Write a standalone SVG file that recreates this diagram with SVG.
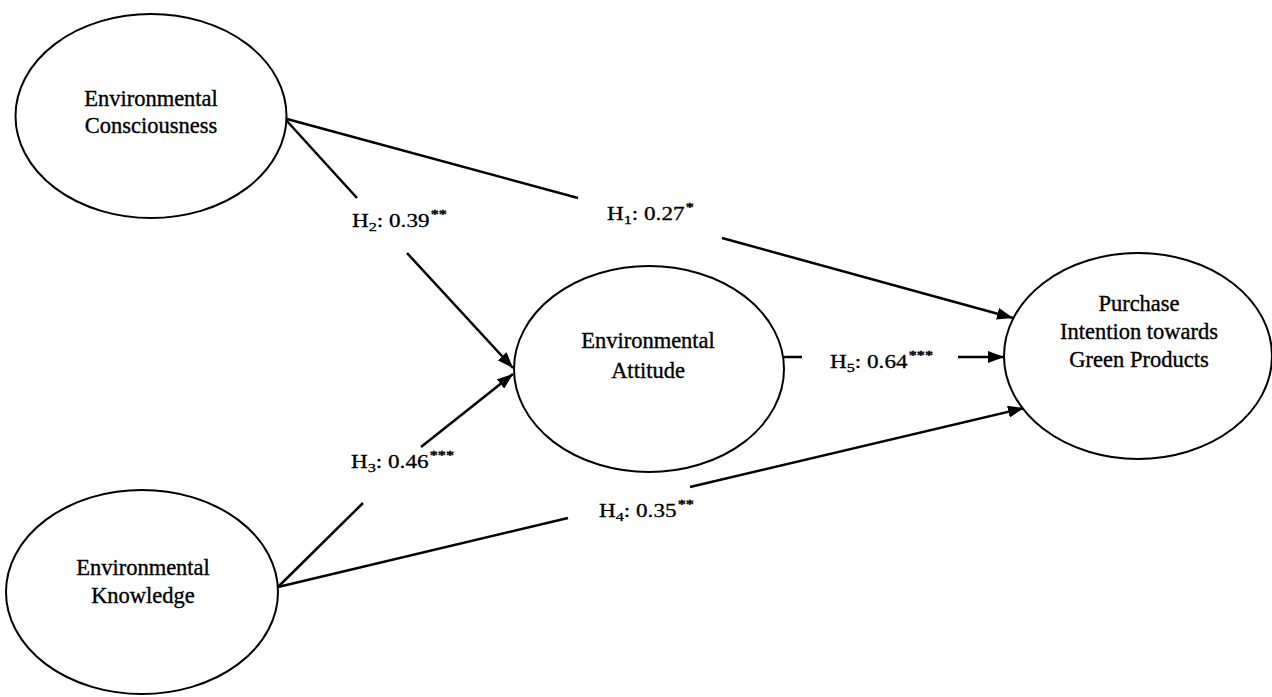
<svg xmlns="http://www.w3.org/2000/svg" width="1272" height="697" viewBox="0 0 1272 697">
<style>
.node ellipse{fill:#fff;stroke:#000;stroke-width:2}
.nt{font-family:"Liberation Serif","Times New Roman",serif;font-size:22.5px;fill:#000;stroke:#000;stroke-width:0.35;text-anchor:middle}
.edge line{stroke:#000;stroke-width:2.5;fill:none}
.lbl{font-family:"Liberation Serif","Times New Roman",serif;font-size:18.5px;fill:#000;stroke:#000;stroke-width:0.3}
.sub{font-size:13px}
.sup{font-size:13px;font-weight:bold}
</style>
<defs>
<marker id="arr" viewBox="0 0 16 12" refX="16" refY="6" markerWidth="16" markerHeight="12" markerUnits="userSpaceOnUse" orient="auto">
<path d="M0,0 L16,6 L0,12 z" fill="#000"/>
</marker>
</defs>
<rect width="1272" height="697" fill="#fff"/>

<g id="connectors" class="edge">
  <!-- H1 -->
  <line x1="287" y1="119" x2="578" y2="198"/>
  <line x1="722" y1="238" x2="1013" y2="318" marker-end="url(#arr)"/>
  <!-- H2 -->
  <line x1="286" y1="120" x2="357" y2="198"/>
  <line x1="407" y1="253" x2="513" y2="368" marker-end="url(#arr)"/>
  <!-- H3 -->
  <line x1="278" y1="587" x2="363" y2="503"/>
  <line x1="421" y1="447" x2="513" y2="374" marker-end="url(#arr)"/>
  <!-- H4 -->
  <line x1="278" y1="587" x2="568" y2="518"/>
  <line x1="690" y1="487" x2="1024" y2="408" marker-end="url(#arr)"/>
  <!-- H5 -->
  <line x1="784" y1="357" x2="802" y2="357"/>
  <line x1="958" y1="357" x2="1004" y2="357" marker-end="url(#arr)"/>
</g>

<g id="labels">
  <g transform="translate(607,220) scale(1.25,1)"><text class="lbl" x="0" y="0">H<tspan class="sub" dy="4">1</tspan><tspan dy="-4">: 0.27</tspan><tspan class="sup" dx="1" dy="-9">*</tspan></text></g>
  <g transform="translate(352,227) scale(1.25,1)"><text class="lbl" x="0" y="0">H<tspan class="sub" dy="4">2</tspan><tspan dy="-4">: 0.39</tspan><tspan class="sup" dx="1" dy="-9">**</tspan></text></g>
  <g transform="translate(351,468) scale(1.25,1)"><text class="lbl" x="0" y="0">H<tspan class="sub" dy="4">3</tspan><tspan dy="-4">: 0.46</tspan><tspan class="sup" dx="1" dy="-9">***</tspan></text></g>
  <g transform="translate(599,517) scale(1.25,1)"><text class="lbl" x="0" y="0">H<tspan class="sub" dy="4">4</tspan><tspan dy="-4">: 0.35</tspan><tspan class="sup" dx="1" dy="-9">**</tspan></text></g>
  <g transform="translate(830,368) scale(1.25,1)"><text class="lbl" x="0" y="0">H<tspan class="sub" dy="4">5</tspan><tspan dy="-4">: 0.64</tspan><tspan class="sup" dx="1" dy="-9">***</tspan></text></g>
</g>

<g id="node-ec" class="node">
  <ellipse cx="151" cy="116" rx="135.5" ry="102"/>
  <text class="nt" x="151" y="106">Environmental</text>
  <text class="nt" x="151" y="133">Consciousness</text>
</g>
<g id="node-ek" class="node">
  <ellipse cx="142" cy="592" rx="136" ry="102"/>
  <text class="nt" x="143" y="575">Environmental</text>
  <text class="nt" x="143" y="603">Knowledge</text>
</g>
<g id="node-ea" class="node">
  <ellipse cx="649" cy="369" rx="135" ry="103"/>
  <text class="nt" x="648" y="348">Environmental</text>
  <text class="nt" x="648" y="378">Attitude</text>
</g>
<g id="node-pi" class="node">
  <ellipse cx="1138" cy="356" rx="134" ry="103"/>
  <text class="nt" x="1139" y="311">Purchase</text>
  <text class="nt" x="1139" y="339">Intention towards</text>
  <text class="nt" x="1139" y="367">Green Products</text>
</g>
</svg>
